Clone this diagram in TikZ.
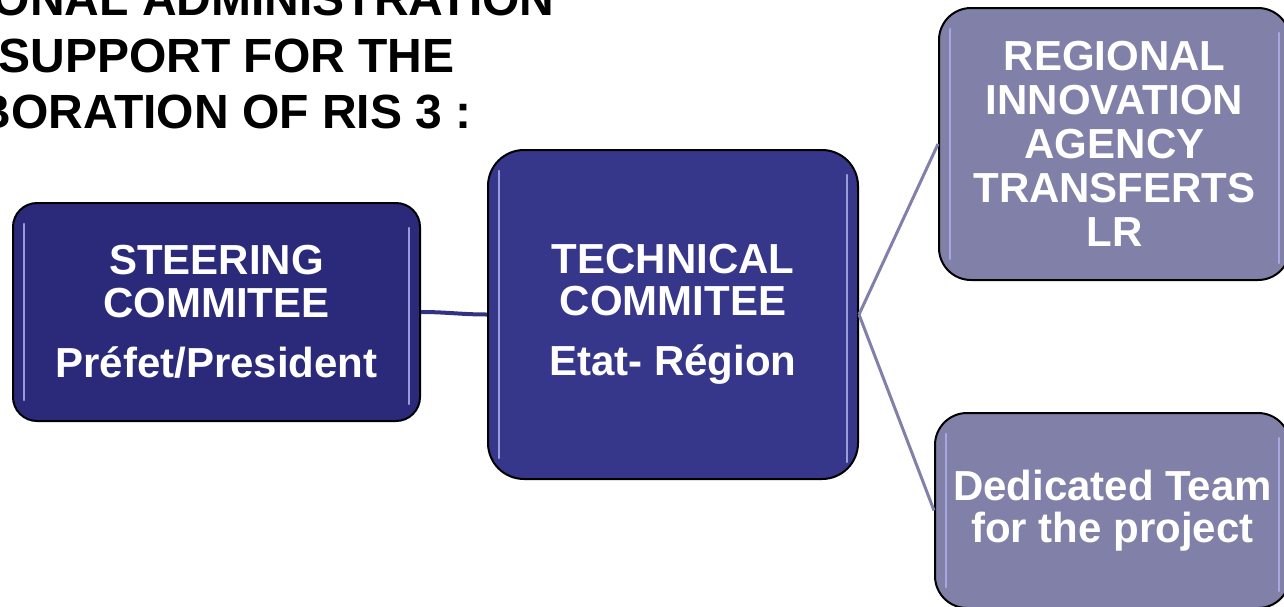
\documentclass[tikz,border=0pt]{standalone}
\usepackage{fontspec}
\setmainfont{Liberation Sans}
\definecolor{darkbox}{RGB}{43,42,122}
\definecolor{midbox}{RGB}{54,54,138}
\definecolor{lightbox}{RGB}{129,128,168}
\definecolor{hlcol}{RGB}{175,175,235}
\definecolor{linkdark}{RGB}{50,50,132}
\definecolor{linklight}{RGB}{128,128,170}
\tikzset{
  box/.style={draw=black, line width=1pt, inner sep=0pt, align=center,
    text=white},
  hl/.style={draw=hlcol, line width=1.2pt, line cap=round, opacity=0.85},
  linkA/.style={draw=linkdark, line width=2pt},
  linkB/.style={draw=linklight, line width=1.5pt},
  titletext/.style={inner sep=0pt, font=\bfseries\fontsize{24}{28}\selectfont, text=black}
}
\begin{document}
\begin{tikzpicture}[x=0.5pt,y=-0.5pt]
\path[use as bounding box, clip] (0,0) rectangle (1284,606);
\fill[white] (0,0) rectangle (1284,606);

% title (clipped)
\node[titletext, anchor=base east] (t1) at (555,15) {ONAL ADMINISTRATION};
\node[titletext, anchor=base east] (t2) at (455,72) {SUPPORT FOR THE};
\node[titletext, anchor=base east] (t3) at (472,128) {BORATION OF RIS 3 :};

% boxes
\node[box, fill=darkbox, rounded corners=12pt, minimum width=203.5pt, minimum height=109pt,
  font=\bfseries\fontsize{21}{21.5}\selectfont]
  (steer) at (216.5,312)
  {STEERING\\COMMITEE\\[8.5pt]Préfet/President};
\node[box, fill=midbox, rounded corners=18pt, minimum width=185pt, minimum height=164.5pt,
  font=\bfseries\fontsize{21}{21}\selectfont]
  (tech) at (673,314.5)
  {TECHNICAL\\COMMITEE\\[9pt]Etat- Région};
\node[box, fill=lightbox, rounded corners=16pt, minimum width=175.5pt, minimum height=136pt,
  font=\bfseries\fontsize{21}{22}\selectfont]
  (reg) at (1114.5,144)
  {REGIONAL\\INNOVATION\\AGENCY\\TRANSFERTS\\LR};
\node[box, fill=lightbox, rounded corners=16pt, minimum width=177.5pt, minimum height=97.5pt,
  font=\bfseries\fontsize{21}{21}\selectfont]
  (ded) at (1112.5,510.5)
  {Dedicated Team\\for the project};

% highlights
\foreach \n in {steer,tech,reg,ded}{
  \draw[hl] ([xshift=6pt,yshift=-11pt]\n.north west) -- ([xshift=6pt,yshift=11pt]\n.south west);
  \draw[hl] ([xshift=-6pt,yshift=-13pt]\n.north east) -- ([xshift=-6pt,yshift=9pt]\n.south east);
}

% connectors
\draw[linkA] (steer.east) to[out=0,in=180] (tech.west);
\draw[linkB] (tech.east) -- (reg.west);
\draw[linkB] (tech.east) -- (ded.west);
\end{tikzpicture}
\end{document}
